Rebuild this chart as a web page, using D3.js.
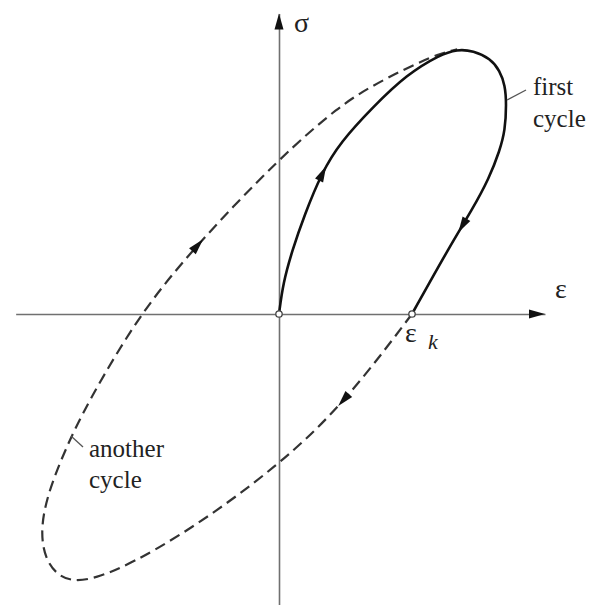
<!DOCTYPE html>
<html>
<head>
<meta charset="utf-8">
<script src="https://cdn.jsdelivr.net/npm/d3@7"></script>
<style>
  body { margin: 0; background: #fff; }
</style>
</head>
<body>
<svg width="597" height="605"></svg>
<script>
// strain / stress in units of eps_k
const firstCycle = [
  [0, 0], [0.03, 0.23], [0.10, 0.48], [0.19, 0.74], [0.32, 1.06], [0.46, 1.29],
  [0.71, 1.56], [0.96, 1.80], [1.21, 1.95], [1.34, 1.99], [1.46, 1.98],
  [1.59, 1.92], [1.66, 1.83], [1.70, 1.72], [1.71, 1.58], [1.70, 1.38],
  [1.66, 1.23], [1.58, 1.02], [1.45, 0.78], [1.29, 0.52], [1.0, 0]
];
const anotherCycle = [
  [1.0, 0], [0.5, -0.66], [0, -1.14], [-0.74, -1.68], [-1.44, -2.05],
  [-1.7, -1.97], [-1.8, -1.72], [-1.76, -1.4], [-1.6, -1.0], [-1.44, -0.67],
  [-1.05, 0], [-0.62, 0.52], [0, 1.17], [0.46, 1.57], [0.71, 1.72],
  [0.96, 1.85], [1.21, 1.96], [1.34, 1.99]
];
const firstArrows = [[0.32, 1.06], [1.38, 0.66]];
const anotherArrows = [[-0.62, 0.52], [0.5, -0.66]];
const markedPoints = [[0, 0], [1, 0]];
const xExtent = [-1.98, 2.0];
const yExtent = [-2.2, 2.26];

const serif = "'Liberation Serif', 'Times New Roman', serif";
const svg = d3.select("svg");

const xScale = d3.scaleLinear().domain([0, 1]).range([279, 412]);
const yScale = d3.scaleLinear().domain([0, 1]).range([314, 181]);

const axisColor = "#707070";

// axes, no ticks
const xAxisScale = d3.scaleLinear().domain(xExtent).range(xExtent.map(xScale));
const yAxisScale = d3.scaleLinear().domain(yExtent).range(yExtent.map(yScale));

svg.append("g")
  .attr("transform", "translate(0," + yScale(0) + ")")
  .call(d3.axisBottom(xAxisScale).tickValues([]).tickSizeOuter(0));
svg.append("g")
  .attr("transform", "translate(" + xScale(0) + ",0)")
  .call(d3.axisLeft(yAxisScale).tickValues([]).tickSizeOuter(0));
svg.selectAll(".domain").attr("stroke", axisColor).attr("stroke-width", 1.6);

// axis arrow heads
svg.append("path")
  .attr("d", "M0,0 L-16,-4.5 L-16,4.5 Z")
  .attr("transform", "translate(" + xAxisScale(xExtent[1]) + "," + yScale(0) + ")")
  .attr("fill", "#111");
svg.append("path")
  .attr("d", "M0,0 L-16,-4.5 L-16,4.5 Z")
  .attr("transform", "translate(" + xScale(0) + "," + yAxisScale(yExtent[1]) + ") rotate(-90)")
  .attr("fill", "#111");

// B-spline smooths the hand-read points
const line = d3.line()
  .x(d => xScale(d[0]))
  .y(d => yScale(d[1]))
  .curve(d3.curveBasis);

const dashed = svg.append("path")
  .attr("d", line(anotherCycle))
  .attr("fill", "none")
  .attr("stroke", "#333")
  .attr("stroke-width", 2.2)
  .attr("stroke-dasharray", "11,6");

const solid = svg.append("path")
  .attr("d", line(firstCycle))
  .attr("fill", "none")
  .attr("stroke", "#111")
  .attr("stroke-width", 2.6);

// arrow heads along a path, pointing in path direction
const addArrows = (pathSel, pts, color) => {
  const node = pathSel.node();
  const total = node.getTotalLength();
  pts.forEach(p => {
    const px = xScale(p[0]), py = yScale(p[1]);
    let best = 0, bestD = Infinity;
    for (let l = 0; l <= total; l += 1) {
      const q = node.getPointAtLength(l);
      const dd = (q.x - px) ** 2 + (q.y - py) ** 2;
      if (dd < bestD) { bestD = dd; best = l; }
    }
    const a = node.getPointAtLength(Math.max(0, best - 3));
    const b = node.getPointAtLength(Math.min(total, best + 3));
    const ang = Math.atan2(b.y - a.y, b.x - a.x) * 180 / Math.PI;
    const c = node.getPointAtLength(best);
    svg.append("path")
      .attr("d", "M8,0 L-8,-4.5 L-8,4.5 Z")
      .attr("transform", "translate(" + c.x + "," + c.y + ") rotate(" + ang + ")")
      .attr("fill", color);
  });
};
addArrows(solid, firstArrows, "#111");
addArrows(dashed, anotherArrows, "#111");

// open circles at origin and eps_k
svg.selectAll("circle.mark")
  .data(markedPoints)
  .enter()
  .append("circle")
  .attr("class", "mark")
  .attr("cx", d => xScale(d[0]))
  .attr("cy", d => yScale(d[1]))
  .attr("r", 3.2)
  .attr("fill", "#fff")
  .attr("stroke", "#444")
  .attr("stroke-width", 1.3);

// labels
const label = (x, y, size, txt) => svg.append("text")
  .attr("x", x).attr("y", y)
  .style("font-family", serif)
  .style("font-size", size + "px")
  .attr("fill", "#222")
  .text(txt);

label(294, 32, 28, "σ");
label(555, 298, 28, "ε");
label(405, 342, 28, "ε");
label(428, 349, 22, "k").style("font-style", "italic");

// leader lines
svg.append("line")
  .attr("x1", 507).attr("y1", 100).attr("x2", 526).attr("y2", 90)
  .attr("stroke", "#555").attr("stroke-width", 1.3);
svg.append("line")
  .attr("x1", 71).attr("y1", 436).attr("x2", 83).attr("y2", 447)
  .attr("stroke", "#555").attr("stroke-width", 1.3);

label(533, 95, 25, "first");
label(533, 127, 25, "cycle");
label(89, 457, 25, "another");
label(89, 488, 25, "cycle");
</script>
</body>
</html>
